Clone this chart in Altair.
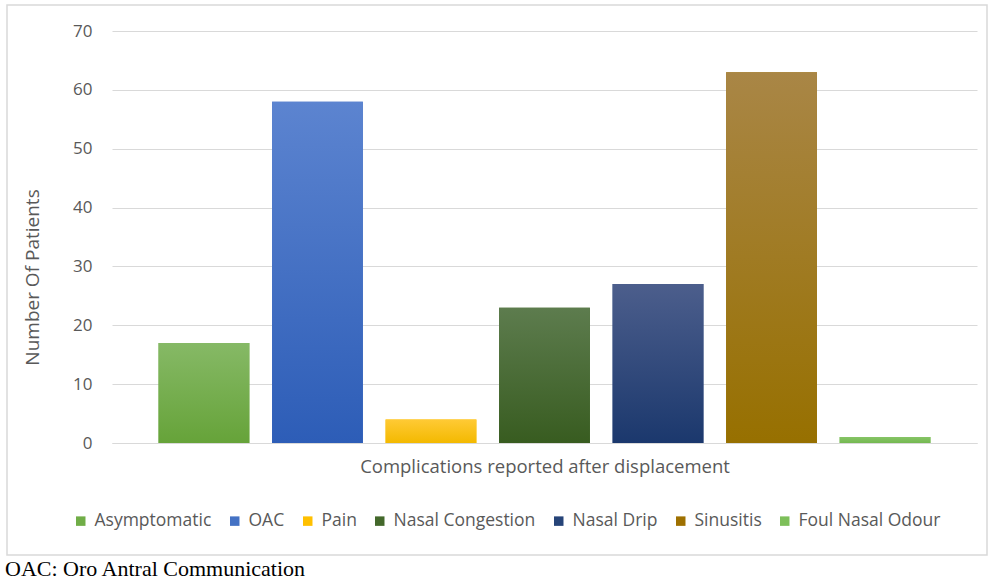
import altair as alt
import pandas as pd

categories = ["Asymptomatic", "OAC", "Pain", "Nasal Congestion", "Nasal Drip", "Sinusitis", "Foul Nasal Odour"]
patients = [17, 58, 4, 23, 27, 63, 1]
legend_colors = ["#70AD47", "#4472C4", "#FFC000", "#43682B", "#264478", "#9E7000", "#7DBF5A"]
grad_top = ["#86B966", "#5C84D0", "#FFCA35", "#5D7C4E", "#4C5E8C", "#A98646", "#86C465"]
grad_bot = ["#66A339", "#2D5DB7", "#F3B900", "#385C20", "#1B386D", "#977000", "#74B851"]
y_ticks = [0, 10, 20, 30, 40, 50, 60, 70]

df = pd.DataFrame({"category": categories, "patients": patients})

FONT = "Open Sans"
TXT = "#595959"

x_enc = alt.X(
    "category:N",
    sort=categories,
    scale=alt.Scale(domain=categories, paddingInner=0.2, paddingOuter=0.41),
    axis=alt.Axis(
        labels=False, ticks=False, domainColor="#d9d9d9", domainWidth=1,
        title="Complications reported after displacement",
        titleFont=FONT, titleFontSize=18.5, titleFontWeight="normal", titleColor=TXT,
        titlePadding=14,
    ),
)
y_enc = alt.Y(
    "patients:Q",
    scale=alt.Scale(domain=[0, 70]),
    axis=alt.Axis(
        values=y_ticks, grid=True, gridColor="#d9d9d9", domain=False, ticks=False,
        labelFont=FONT, labelFontSize=17, labelColor=TXT, labelPadding=20,
        title="Number Of Patients", titleFont=FONT, titleFontSize=19,
        titleFontWeight="normal", titleColor=TXT, titleX=-70, titleY=246,
    ),
)

base = alt.Chart(df).mark_bar().encode(
    x=x_enc,
    y=y_enc,
    color=alt.Color(
        "category:N",
        sort=categories,
        scale=alt.Scale(domain=categories, range=legend_colors),
        legend=alt.Legend(
            orient="none", direction="horizontal", legendX=-40, legendY=481,
            title=None, symbolType="square", symbolSize=90, symbolStrokeWidth=0,
            labelFont=FONT, labelFontSize=17.5, labelColor=TXT, columnPadding=14,
            labelOffset=5, labelLimit=300,
        ),
    ),
)

layers = [base]
for c, t, b in zip(categories, grad_top, grad_bot):
    g = alt.Gradient(
        gradient="linear",
        stops=[alt.GradientStop(color=t, offset=0), alt.GradientStop(color=b, offset=1)],
        x1=0, x2=0, y1=0, y2=1,
    )
    layers.append(
        alt.Chart(df).transform_filter(alt.datum.category == c)
        .mark_bar(color=g)
        .encode(x=alt.X("category:N", sort=categories), y=alt.Y("patients:Q"))
    )

one = alt.Data(values=[{"a": 1}])
border = alt.Chart(one).mark_rect(fill=None, stroke="#d9d9d9", strokeWidth=1.5).encode(
    x=alt.value(-105), x2=alt.value(875), y=alt.value(-26), y2=alt.value(524)
)
foot = alt.Chart(one).mark_text(
    text="OAC: Oro Antral Communication", align="left", baseline="middle",
    font="Liberation Serif", fontSize=22, color="#000000",
).encode(x=alt.value(-107), y=alt.value(538))

chart = alt.layer(*layers, border, foot).properties(
    width=865, height=412,
    autosize=alt.AutoSizeParams(type="none"),
    padding={"left": 112, "top": 31, "right": 16, "bottom": 137},
    background="white",
).configure_view(stroke=None)

chart.save("out.html", embed_options={"renderer": "svg", "actions": False})
